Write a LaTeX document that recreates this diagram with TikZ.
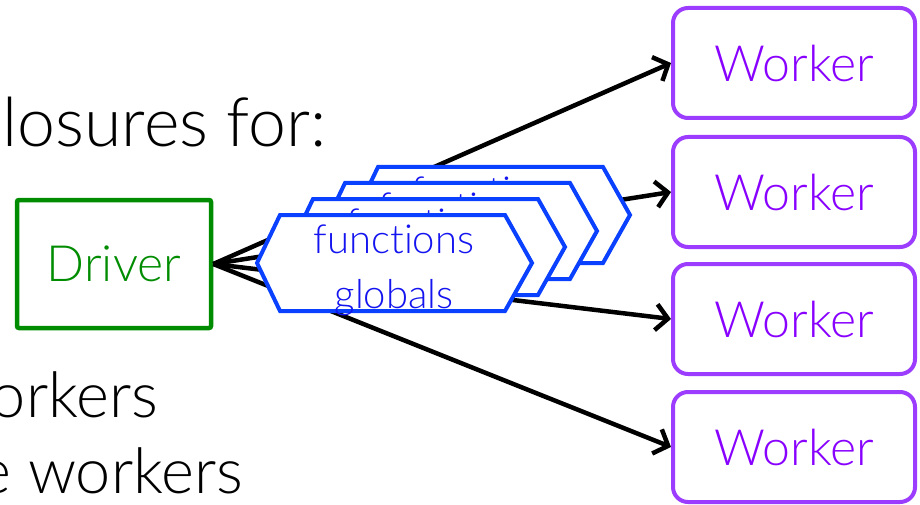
\documentclass[tikz,border=0pt]{standalone}
\usepackage{fontspec}
\setmainfont{Lato Light}[Ligatures=NoCommon]
\usetikzlibrary{arrows.meta}
\definecolor{drivergreen}{RGB}{0,140,0}
\definecolor{workerline}{RGB}{155,60,255}
\definecolor{workertext}{RGB}{136,0,255}
\definecolor{hexline}{RGB}{10,64,255}
\definecolor{hextext}{RGB}{20,20,240}
\begin{document}
\begin{tikzpicture}[x=1pt,y=-1pt,
  bigtext/.style={font=\fontsize{63}{76}\selectfont, inner sep=0pt, anchor=base east},
  driverbox/.style={draw=drivergreen, line width=4.5pt, rounded corners=2pt,
    minimum width=194pt, minimum height=128pt, inner sep=0pt,
    text=drivergreen, font=\fontsize{50}{60}\selectfont},
  workerbox/.style={draw=workerline, line width=4pt, rounded corners=15pt,
    minimum width=242pt, minimum height=110pt, inner sep=0pt,
    text=workertext, font=\fontsize{50}{60}\selectfont},
  link/.style={line width=4.5pt, -{Straight Barb[length=12pt,width=26pt]}},
  hexborder/.style={draw=hexline, line width=4pt, fill=white, line join=miter},
  hexlabel/.style={text=hextext, font=\fontsize{40}{48}\selectfont, inner sep=0pt, anchor=base},
  pics/packet/.style={code={
    \draw[hexborder] (-137,0) -- (-114,-48) -- (111,-48) -- (138,0)
      -- (111,48) -- (-114,48) -- cycle;
    \node[hexlabel] (-fn) at (0,-10) {functions};
    \node[hexlabel] (-gl) at (0,45) {globals};
  }}
]
\useasboundingbox (0,0) rectangle (920,505);
\clip (0,0) rectangle (920,505);

% slide text running in from the left
\node[bigtext, font=\fontsize{68}{80}\selectfont] (t1) at (327,147) {losures for:};
\node[bigtext] (t2) at (158,417) {orkers};
\node[bigtext] (t3) at (243,493) {e workers};

% driver and workers
\node[driverbox] (driver) at (114,264) {Driver};
\node[workerbox] (w1) at (794,63) {Worker};
\node[workerbox] (w2) at (794,192) {Worker};
\node[workerbox] (w3) at (794,319) {Worker};
\node[workerbox] (w4) at (794,447) {Worker};

% task broadcast
\draw[link] (driver.east) -- (w1.west);
\draw[link] (driver.east) -- (w2.west);
\draw[link] (driver.east) -- (w3.west);
\draw[link] (driver.east) -- (w4.west);

% stacked closures, back to front
\pic (p4) at (492,215) {packet};
\pic (p3) at (459,231) {packet};
\pic (p2) at (427,247) {packet};
\pic (p1) at (394,263) {packet};
\end{tikzpicture}
\end{document}
